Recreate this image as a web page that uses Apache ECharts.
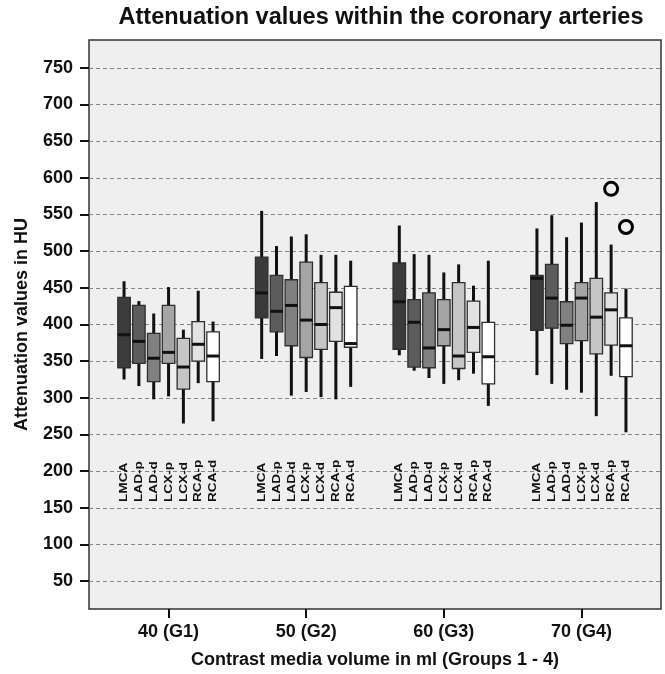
<!DOCTYPE html>
<html>
<head>
<meta charset="utf-8">
<script src="https://cdn.jsdelivr.net/npm/echarts@6/dist/echarts.min.js"></script>
<style>
  html, body { margin: 0; padding: 0; background: #fff; }
  #chart { width: 665px; height: 674px; }
</style>
</head>
<body>
<div id="chart"></div>
<script>
// groups on the x axis
const groups = ['40 (G1)', '50 (G2)', '60 (G3)', '70 (G4)']
const vessels = ['LMCA', 'LAD-p', 'LAD-d', 'LCX-p', 'LCX-d', 'RCA-p', 'RCA-d']

// [min, q1, median, q3, max] per vessel, one list per group
const g1 = [[325, 341, 386, 437, 459], [316, 347, 377, 426, 432], [298, 322, 354, 388, 415],
  [302, 347, 362, 426, 451], [265, 312, 342, 381, 393], [320, 350, 373, 404, 446], [268, 322, 357, 390, 404]]
const g2 = [[353, 409, 443, 492, 555], [357, 390, 418, 467, 507], [303, 371, 426, 461, 520],
  [308, 355, 406, 485, 523], [301, 366, 400, 457, 495], [298, 377, 423, 444, 495], [315, 369, 374, 452, 487]]
const g3 = [[358, 366, 431, 484, 535], [337, 342, 403, 434, 496], [327, 341, 368, 443, 495],
  [319, 371, 393, 434, 471], [324, 340, 357, 457, 482], [333, 362, 396, 432, 453], [289, 319, 356, 403, 487]]
const g4 = [[331, 392, 463, 467, 531], [319, 395, 436, 482, 549], [311, 374, 399, 431, 519],
  [307, 378, 436, 457, 539], [275, 360, 410, 463, 567], [330, 372, 420, 443, 509], [253, 329, 371, 409, 449]]
const groupStats = [g1, g2, g3, g4]

// outliers: [group index, vessel index, value]
const outliers = [[3, 5, 585], [3, 6, 533]]

const yTicks = [50, 100, 150, 200, 250, 300, 350, 400, 450, 500, 550, 600, 650, 700, 750]

// styling / layout
const fills = ['#3b3b3b', '#5c5c5c', '#808080', '#a5a5a5', '#c6c6c6', '#e2e2e2', '#ffffff']
const boxStep = 0.1078   // distance between neighbouring boxes, in group units
const boxWidth = 12.5     // px
const labelBase = 158     // value where the rotated vessel names start
const font = 'Liberation Sans, Arial, sans-serif'

const xOf = (g, v) => g + (v - 3) * boxStep

const boxData = []
groupStats.forEach((stats, g) => {
  stats.forEach((s, v) => {
    boxData.push([xOf(g, v), s[0], s[1], s[2], s[3], s[4], v])
  })
})
const outlierData = outliers.map(o => [xOf(o[0], o[1]), o[2]])

const renderBox = (params, api) => {
  const x = api.value(0)
  const v = api.value(6)
  const pMin = api.coord([x, api.value(1)])
  const pQ1 = api.coord([x, api.value(2)])
  const pMed = api.coord([x, api.value(3)])
  const pQ3 = api.coord([x, api.value(4)])
  const pMax = api.coord([x, api.value(5)])
  const pLab = api.coord([x, labelBase])
  const half = boxWidth / 2
  return {
    type: 'group',
    children: [
      { type: 'line', shape: { x1: pMin[0], y1: pMin[1], x2: pMax[0], y2: pMax[1] },
        style: { stroke: '#111', lineWidth: 3 } },
      { type: 'rect', shape: { x: pQ3[0] - half, y: pQ3[1], width: boxWidth, height: pQ1[1] - pQ3[1] },
        style: { fill: fills[v], stroke: '#2e2e2e', lineWidth: 1.3 } },
      { type: 'line', shape: { x1: pMed[0] - half, y1: pMed[1], x2: pMed[0] + half, y2: pMed[1] },
        style: { stroke: '#111', lineWidth: 3 } },
      { type: 'text', x: pLab[0], y: pLab[1], rotation: Math.PI / 2, scaleX: 1.18,
        style: { text: vessels[v], x: 0, y: 0, align: 'left', verticalAlign: 'middle',
          fontSize: 11.5, fontWeight: 'bold', fontFamily: font, fill: '#111' } }
    ]
  }
}

const chart = echarts.init(document.getElementById('chart'))
chart.setOption({
  backgroundColor: '#fff',
  animation: false,
  title: {
    text: 'Attenuation values within the coronary arteries',
    left: 376, top: 1, textAlign: 'center',
    textStyle: { fontSize: 23.5, fontWeight: 'bold', fontFamily: font, color: '#111' }
  },
  grid: {
    left: 89, right: 4, top: 40, bottom: 63,
    show: true, backgroundColor: '#efefef', borderColor: '#333', borderWidth: 1.5
  },
  xAxis: {
    type: 'value', min: -0.578, max: 3.578,
    axisLine: { show: false, onZero: false },
    splitLine: { show: false },
    axisTick: { customValues: [0, 1, 2, 3], length: 9, lineStyle: { color: '#111', width: 2 } },
    axisLabel: { customValues: [0, 1, 2, 3], formatter: v => groups[Math.round(v)], margin: 14,
      fontSize: 18, fontWeight: 'bold', fontFamily: font, color: '#111' },
    name: 'Contrast media volume in ml (Groups 1 - 4)',
    nameLocation: 'middle', nameGap: 42,
    nameTextStyle: { fontSize: 18, fontWeight: 'bold', fontFamily: font, color: '#111' }
  },
  yAxis: {
    type: 'value', min: 12, max: 788,
    axisLine: { show: false, onZero: false },
    axisTick: { customValues: yTicks, length: 9, lineStyle: { color: '#111', width: 2 } },
    axisLabel: { customValues: yTicks, margin: 16,
      fontSize: 18, fontWeight: 'bold', fontFamily: font, color: '#111' },
    splitLine: { show: true, lineStyle: { type: [4, 3], color: '#858585', width: 1 } },
    name: 'Attenuation values in HU',
    nameLocation: 'middle', nameGap: 58,
    nameTextStyle: { fontSize: 18, fontWeight: 'bold', fontFamily: font, color: '#111' }
  },
  series: [
    { type: 'custom', renderItem: renderBox, data: boxData, encode: { x: 0, y: [1, 5] }, z: 3 },
    { type: 'scatter', data: outlierData, symbol: 'circle', symbolSize: 13, z: 4,
      itemStyle: { color: 'rgba(0,0,0,0)', borderColor: '#000', borderWidth: 3, opacity: 1 } }
  ]
})
</script>
</body>
</html>
